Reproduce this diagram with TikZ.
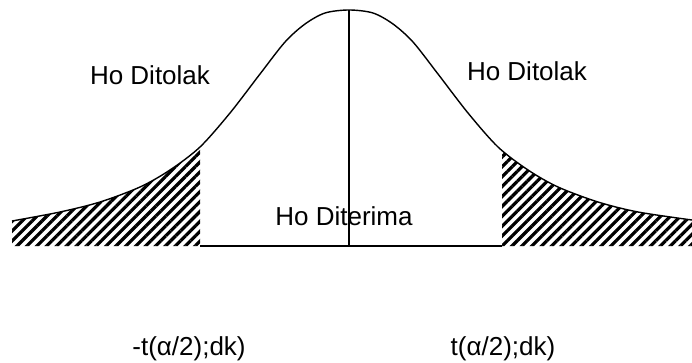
\documentclass[tikz,border=0pt]{standalone}
\usepackage{fontspec}
\setmainfont{Liberation Sans}
\usetikzlibrary{patterns.meta}
\newcommand{\tcurve}{(12,221) (60,212) (100,202) (140,187) (170,170) (200,147) (230,113) (260,74) (285,42) (305,24) (325,13) (349,10) (373,13) (393,24) (413,42) (438,74) (468,113) (498,147) (528,170) (558,187) (598,202) (638,212) (692,220)}
\tikzset{
  lbl/.style={font=\fontsize{26}{31}\selectfont, anchor=base, inner sep=0pt},
  hatch/.style={pattern={Lines[angle=45,distance=7pt,line width=3.2pt]}}
}
\begin{document}
\begin{tikzpicture}[x=1pt, y=-1pt]
\useasboundingbox (0,0) rectangle (692,362);
% Rejection tails (hatched)
\begin{scope}
\clip (12,0) rectangle (200,246);
\fill[hatch] (12,246) -- plot[smooth] coordinates {\tcurve} -- (692,246) -- cycle;
\end{scope}
\begin{scope}
\clip (502,0) rectangle (692,246);
\fill[hatch] (12,246) -- plot[smooth] coordinates {\tcurve} -- (692,246) -- cycle;
\end{scope}
% Curve
\draw[line width=1.4pt] plot[smooth] coordinates {\tcurve};
% Labels
\node[lbl] (tolakL) at (150,84) {Ho Ditolak};
\node[lbl] (tolakR) at (527,80) {Ho Ditolak};
\node[lbl] (terima) at (344,225) {Ho Diterima};
\node[lbl] (kritL) at (189,355) {-t(α/2);dk)};
\node[lbl] (kritR) at (503,355) {t(α/2);dk)};
% Axis and centre line
\draw[line width=1.5pt] (200,246) -- (502,246);
\draw[line width=1.3pt] (349,10) -- (349,246);
\end{tikzpicture}
\end{document}
